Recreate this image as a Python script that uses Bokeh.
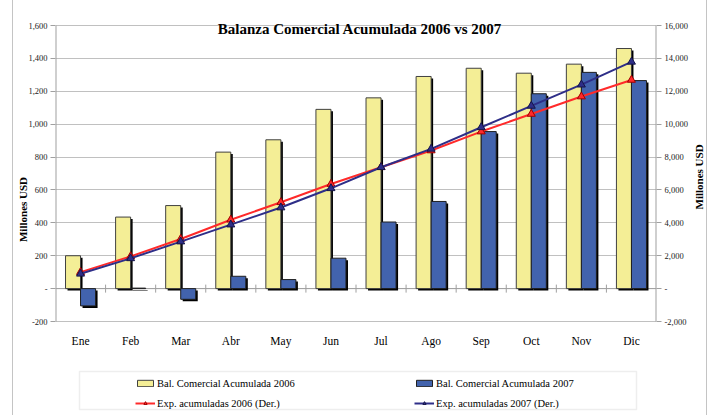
import math
from bokeh.plotting import figure
from bokeh.models import (Range1d, LinearAxis, FixedTicker, NumeralTickFormatter,
                          Legend, LegendItem, BoxAnnotation, Label)
from bokeh.core.properties import value
from bokeh.embed import file_html
from bokeh.resources import INLINE

months = ["Ene", "Feb", "Mar", "Abr", "May", "Jun", "Jul", "Ago", "Sep", "Oct", "Nov", "Dic"]
bal_2006 = [200, 435, 505, 830, 905, 1090, 1160, 1290, 1340, 1310, 1365, 1460]
bal_2007 = [-105, 3, -65, 75, 55, 185, 405, 530, 955, 1185, 1315, 1265]
exp_2006 = [1000, 1960, 3020, 4190, 5250, 6360, 7380, 8400, 9550, 10620, 11680, 12690]
exp_2007 = [900, 1840, 2860, 3890, 4930, 6100, 7380, 8500, 9810, 11110, 12400, 13790]
left_ticks = [-200, 0, 200, 400, 600, 800, 1000, 1200, 1400, 1600]
right_ticks = [-2000, 0, 2000, 4000, 6000, 8000, 10000, 12000, 14000, 16000]

FONT = "Liberation Serif"
YELLOW = "#f4ee96"
BLUE = "#4263ad"
RED = "#ff2a2a"
NAVY = "#2e2e88"
GRID = "#c0c0c0"
AXIS = "#a0a0a0"

W, H = 713, 415
F_LEFT, F_RIGHT = 55, 656          # frame horizontal extent (px)
F_TOP, F_BOTTOM = 5, 413           # frame vertical extent (px)
P_TOP, P_BOTTOM = 25, 321          # plotting area (1600 .. -200)

kl = (P_BOTTOM - P_TOP) / (left_ticks[-1] - left_ticks[0])
kr = (P_BOTTOM - P_TOP) / (right_ticks[-1] - right_ticks[0])
yl = Range1d(left_ticks[0] - (F_BOTTOM - P_BOTTOM) / kl, left_ticks[-1] + (P_TOP - F_TOP) / kl)
yr = Range1d(right_ticks[0] - (F_BOTTOM - P_BOTTOM) / kr, right_ticks[-1] + (P_TOP - F_TOP) / kr)

xs = list(range(1, len(months) + 1))
bw = 0.3
px_per_cat = (F_RIGHT - F_LEFT) / len(months)

p = figure(width=W, height=H, output_backend="svg", toolbar_location=None,
           x_range=Range1d(0.5, len(months) + 0.5), y_range=yl,
           min_border_left=F_LEFT, min_border_right=W - F_RIGHT,
           min_border_top=F_TOP, min_border_bottom=H - F_BOTTOM,
           x_axis_location=None, y_axis_location=None)
p.outline_line_color = None
p.background_fill_color = "white"
p.border_fill_color = None
# thin grey chart-area border (left and right edges)
p.styles = {"background": "linear-gradient(to right, #ffffff 12px, #c4c4c4 12px, #c4c4c4 13px, "
                          "#ffffff 13px, #ffffff 706px, #c4c4c4 706px, #c4c4c4 707px, #ffffff 707px)"}
p.extra_y_ranges = {"right": yr}

ly = LinearAxis(ticker=FixedTicker(ticks=left_ticks),
                formatter=NumeralTickFormatter(format="0,0"),
                major_label_overrides={0: "-"},
                axis_label="Millones USD")
ry = LinearAxis(y_range_name="right", ticker=FixedTicker(ticks=right_ticks),
                formatter=NumeralTickFormatter(format="0,0"),
                major_label_overrides={0: "-"},
                axis_label="Millones USD")
for ax in (ly, ry):
    ax.axis_line_color = None
    ax.major_tick_line_color = AXIS
    ax.major_tick_out = 5
    ax.major_tick_in = 0
    ax.minor_tick_line_color = None
    ax.major_label_text_font = FONT
    ax.major_label_text_font_size = "8.5px"
    ax.major_label_text_color = "#222222"
    ax.major_label_standoff = 3
    ax.axis_label_text_font = FONT
    ax.axis_label_text_font_style = "bold"
    ax.axis_label_text_font_size = "11px"
    ax.axis_label_text_color = "black"
ly.axis_label_standoff = -4
ry.axis_label_standoff = 8
ry.axis_label_orientation = math.pi / 2
p.add_layout(ly, "left")
p.add_layout(ry, "right")

p.xgrid.visible = False
p.ygrid.ticker = FixedTicker(ticks=left_ticks)
p.ygrid.grid_line_color = GRID

# axis lines of the plotting area, zero line and category boundary ticks
p.segment(x0=[0.5, len(months) + 0.5], x1=[0.5, len(months) + 0.5],
          y0=[left_ticks[0]] * 2, y1=[left_ticks[-1]] * 2, line_color=AXIS, line_width=2)
p.segment(x0=[0.5], x1=[len(months) + 0.5], y0=[0], y1=[0], line_color=AXIS, line_width=1)
bounds = [i + 0.5 for i in xs[:-1]]
tk = 4 / kl
p.segment(x0=bounds, x1=bounds, y0=[-tk] * len(bounds), y1=[tk] * len(bounds),
          line_color=AXIS, line_width=1)

# category labels
p.text(x=xs, y=[left_ticks[0] - 19 / kl] * len(xs), text=months,
       text_font=value(FONT), text_font_size="11.5px", text_color="black",
       text_align="center", text_baseline="middle")

# bar shadows
dx = 2 / px_per_cat
dy = 2 / kl
x06 = [x - bw / 2 for x in xs]
x07 = [x + bw / 2 for x in xs]
p.vbar(x=[x + dx for x in x06], width=bw, top=[v - dy for v in bal_2006], bottom=-dy,
       fill_color="black", line_color=None)
p.vbar(x=[x + dx for x in x07], width=bw, top=[v - dy for v in bal_2007], bottom=-dy,
       fill_color="black", line_color=None)
b06 = p.vbar(x=x06, width=bw, top=bal_2006, bottom=0, fill_color=YELLOW,
             line_color="#404040", line_width=1)
b07 = p.vbar(x=x07, width=bw, top=bal_2007, bottom=0, fill_color=BLUE,
             line_color="#202020", line_width=1)

l06 = p.line(xs, exp_2006, y_range_name="right", line_color=RED, line_width=2)
m06 = p.scatter(xs, exp_2006, y_range_name="right", marker="triangle", size=8,
                fill_color=RED, line_color="#a00000")
l07 = p.line(xs, exp_2007, y_range_name="right", line_color=NAVY, line_width=2)
m07 = p.scatter(xs, exp_2007, y_range_name="right", marker="triangle", size=8,
                fill_color=NAVY, line_color="#15154a")

# title
p.add_layout(Label(x=(len(months) + 1) / 2, y=left_ticks[-1], y_offset=-3, x_offset=4,
                   text="Balanza Comercial Acumulada 2006 vs 2007",
                   text_font=FONT, text_font_style="bold", text_font_size="15px",
                   text_align="center", text_baseline="alphabetic", text_color="black"))

# legend frame (screen units, measured from the frame's bottom-left corner)
p.add_layout(BoxAnnotation(left=79 - F_LEFT, right=636 - F_LEFT,
                           top=F_BOTTOM - 371, bottom=F_BOTTOM - 409,
                           left_units="screen", right_units="screen",
                           top_units="screen", bottom_units="screen",
                           fill_color=None, fill_alpha=0, line_color="#c8c8c8", line_width=1.5))

legend = Legend(items=[
    LegendItem(label="Bal. Comercial Acumulada 2006", renderers=[b06]),
    LegendItem(label="Bal. Comercial Acumulada 2007", renderers=[b07]),
    LegendItem(label="Exp. acumuladas 2006 (Der.)", renderers=[l06, m06]),
    LegendItem(label="Exp. acumuladas 2007 (Der.)", renderers=[l07, m07]),
], location=(135 - F_LEFT, F_BOTTOM - 409.5), orientation="horizontal", ncols=2,
    glyph_width=20, glyph_height=8, label_height=13, label_width=250,
    label_standoff=2, spacing=7, padding=3, margin=0,
    label_text_font=FONT, label_text_font_size="10.5px", label_text_color="black",
    border_line_color=None, background_fill_alpha=0)
p.add_layout(legend, "center")

open("out.html", "w").write(file_html(p, INLINE))
